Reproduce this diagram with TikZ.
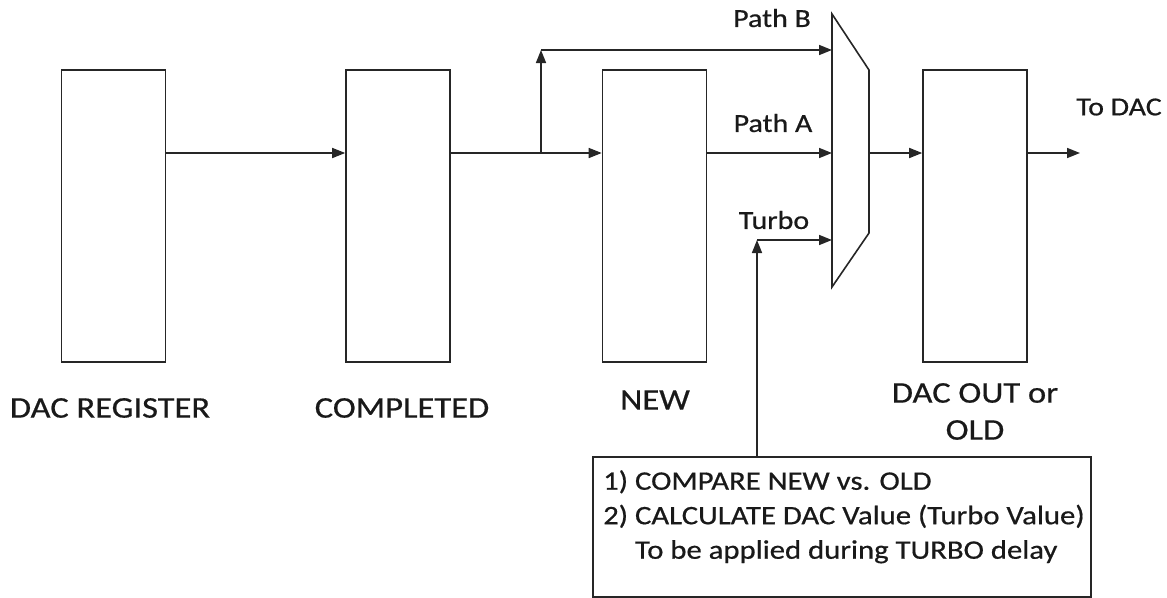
\documentclass[tikz,border=0pt]{standalone}
\usepackage{fontspec}
\setmainfont{Carlito}[FakeStretch=1.15,FakeBold=0.6]
\usetikzlibrary{arrows.meta}
\tikzset{
  ln/.style={line width=1.6pt, draw=black!85},
  reg/.style={ln, rectangle, minimum width=104pt, minimum height=292pt, inner sep=0pt},
  arr/.style={ln, -{Triangle[length=13pt,width=10pt]}},
  lbl/.style={font=\fontsize{30}{34}\selectfont, inner sep=0pt, text=black!90},
  plbl/.style={font=\fontsize{26}{30}\selectfont, inner sep=0pt, text=black!90},
}
\begin{document}
\begin{tikzpicture}[x=1pt,y=-1pt]
\useasboundingbox (0,0) rectangle (1167,597);
% registers
\node[reg] (r1) at (113.5,216) {};
\node[reg] (r2) at (398,216) {};
\node[reg] (r3) at (654.5,216) {};
\node[reg] (r4) at (975,216) {};
% labels
\node[lbl] at (110,408) {DAC REGISTER};
\node[lbl] at (402,408) {COMPLETED};
\node[lbl] at (655,400) {NEW};
\node[lbl] at (975,393) {DAC OUT or};
\node[lbl] at (975,430) {OLD};
\node[plbl] at (772,18) {Path B};
\node[plbl] at (773,123) {Path A};
\node[plbl] at (774,220) {Turbo};
\node[plbl] at (1119,107) {To DAC};
% mux
\coordinate (m1) at (832,14);
\coordinate (m2) at (869,70);
\coordinate (m3) at (869,233);
\coordinate (m4) at (832,287);
\draw[ln, line join=miter] (m1) -- (m2) -- (m3) -- (m4) -- cycle;
\coordinate (mB) at (832,50);
\coordinate (mA) at (832,153);
\coordinate (mT) at (832,240);
\coordinate (mO) at (869,153);
% bottom box
\node[ln, rectangle, minimum width=498pt, minimum height=140pt, inner sep=0pt] (cb) at (842,527) {};
\node[anchor=north west, align=left, inner sep=0pt, text=black!90, font=\fontsize{26.7}{34.5}\selectfont] (ct) at (603,470)
 {1) COMPARE NEW vs. OLD\\2) CALCULATE DAC Value (Turbo Value)\\\phantom{2) }To be applied during TURBO delay};
% connectors
\coordinate (br) at (541,153);
\coordinate (bt) at (541,50);
\coordinate (tc) at (757,240);
\coordinate (out) at (1080,153);
\draw[arr] (r1.east |- mA) -- (r2.west |- mA);
\draw[arr] (r2.east |- mA) -- (r3.west |- mA);
\draw[arr] (br) -- (bt);
\draw[arr] (bt) -- (mB);
\draw[arr] (r3.east |- mA) -- (mA);
\draw[arr] (mO) -- (r4.west |- mO);
\draw[arr] (r4.east |- mO) -- (out);
\draw[arr] (cb.north -| tc) -- (tc);
\draw[arr] (tc) -- (mT);
\end{tikzpicture}
\end{document}
